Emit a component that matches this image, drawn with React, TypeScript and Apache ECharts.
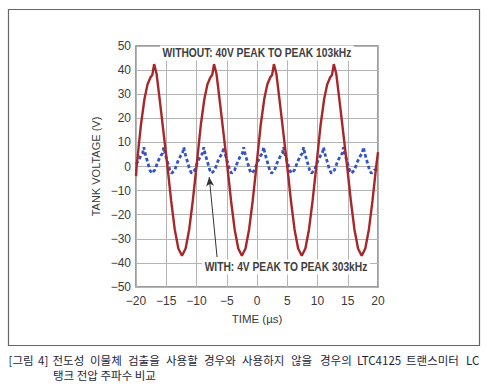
import React, { useEffect, useRef } from "react";
import * as echarts from "echarts";

// time (µs), tank voltage (V) — without foreign-object detection (103 kHz)
const withoutData: [number, number][] = [
  [-20, -4], [-19.9, 0], [-19.2, 17], [-18.6, 28], [-18.1, 34], [-17.6, 37], [-17.3, 38], [-17.1, 41], [-17.0, 42.5],
  [-16.85, 41], [-16.6, 38.5], [-16.0, 26], [-15.4, 13], [-14.8, 0], [-14.2, -14], [-13.6, -26], [-13.0, -34],
  [-12.4, -37], [-11.8, -34], [-11.2, -26], [-10.6, -14], [-10.0, 0],
  [-9.3, 17], [-8.7, 28], [-8.2, 34], [-7.7, 37], [-7.4, 38], [-7.2, 41], [-7.1, 42.5],
  [-6.95, 41], [-6.7, 38.5], [-6.1, 26], [-5.5, 13], [-4.9, 0], [-4.3, -14], [-3.7, -26], [-3.1, -34],
  [-2.5, -37], [-1.9, -34], [-1.3, -26], [-0.7, -14], [-0.1, 0],
  [0.6, 17], [1.2, 28], [1.7, 34], [2.2, 37], [2.5, 38], [2.7, 41], [2.8, 42.5],
  [2.95, 41], [3.2, 38.5], [3.8, 26], [4.4, 13], [5.0, 0], [5.6, -14], [6.2, -26], [6.8, -34],
  [7.4, -37], [8.0, -34], [8.6, -26], [9.2, -14], [9.8, 0],
  [10.5, 17], [11.1, 28], [11.6, 34], [12.1, 37], [12.4, 38], [12.6, 41], [12.7, 42.5],
  [12.85, 41], [13.1, 38.5], [13.7, 26], [14.3, 13], [14.9, 0], [15.5, -14], [16.1, -26], [16.7, -34],
  [17.3, -37], [17.9, -34], [18.5, -26], [19.1, -14], [19.7, 0], [20, 6],
];

// time (µs), tank voltage (V) — with foreign-object detection (303 kHz)
const withData: [number, number][] = [
  [-20, 1], [-19.7, 2], [-19.2, 4.5], [-18.9, 5.5], [-18.7, 8], [-18.5, 5.5], [-18.1, 2], [-17.7, -1.5], [-17.4, -2.8],
  [-16.9, -1.5], [-16.4, 2], [-15.9, 4.5], [-15.6, 5.5], [-15.4, 8], [-15.2, 5.5], [-14.8, 2], [-14.4, -1.5], [-14.1, -2.8],
  [-13.6, -1.5], [-13.1, 2], [-12.6, 4.5], [-12.3, 5.5], [-12.1, 8], [-11.9, 5.5], [-11.5, 2], [-11.1, -1.5], [-10.8, -2.8],
  [-10.3, -1.5], [-9.8, 2], [-9.3, 4.5], [-9.0, 5.5], [-8.8, 8], [-8.6, 5.5], [-8.2, 2], [-7.8, -1.5], [-7.5, -2.8],
  [-7.0, -1.5], [-6.5, 2], [-6.0, 4.5], [-5.7, 5.5], [-5.5, 8], [-5.3, 5.5], [-4.9, 2], [-4.5, -1.5], [-4.2, -2.8],
  [-3.7, -1.5], [-3.2, 2], [-2.7, 4.5], [-2.4, 5.5], [-2.2, 8], [-2.0, 5.5], [-1.6, 2], [-1.2, -1.5], [-0.9, -2.8],
  [-0.4, -1.5], [0.1, 2], [0.6, 4.5], [0.9, 5.5], [1.1, 8], [1.3, 5.5], [1.7, 2], [2.1, -1.5], [2.4, -2.8],
  [2.9, -1.5], [3.4, 2], [3.9, 4.5], [4.2, 5.5], [4.4, 8], [4.6, 5.5], [5.0, 2], [5.4, -1.5], [5.7, -2.8],
  [6.2, -1.5], [6.7, 2], [7.2, 4.5], [7.5, 5.5], [7.7, 8], [7.9, 5.5], [8.3, 2], [8.7, -1.5], [9.0, -2.8],
  [9.5, -1.5], [10.0, 2], [10.5, 4.5], [10.8, 5.5], [11.0, 8], [11.2, 5.5], [11.6, 2], [12.0, -1.5], [12.3, -2.8],
  [12.8, -1.5], [13.3, 2], [13.8, 4.5], [14.1, 5.5], [14.3, 8], [14.5, 5.5], [14.9, 2], [15.3, -1.5], [15.6, -2.8],
  [16.1, -1.5], [16.6, 2], [17.1, 4.5], [17.4, 5.5], [17.6, 8], [17.8, 5.5], [18.2, 2], [18.6, -1.5], [18.9, -2.8],
  [19.4, -1.5], [20, -1],
];

// annotation arrow (data coords): from label to the 303 kHz trace
const arrowStart: [number, number] = [-6.6, -37.6];
const arrowEnd: [number, number] = [-7.9, -4.4];

const xMin = -20, xMax = 20, xStep = 5;
const yMin = -50, yMax = 50, yStep = 10;

const topLabel = "WITHOUT: 40V PEAK TO PEAK 103kHz";
const bottomLabel = "WITH: 4V PEAK TO PEAK 303kHz";
const xName = "TIME (µs)";
const yName = "TANK VOLTAGE (V)";
const captionWords1 = ["[그림", "4]", "전도성", "이물체", "검출을", "사용할", "경우와", "사용하지", "않을", "경우의", "LTC4125", "트랜스미터", "LC"];
const captionLine2 = "탱크 전압 주파수 비교";

// layout: left x of each caption word (justified line)
const captionWordX = [8.5, 38, 52.5, 90, 128, 166, 204, 242, 291, 320, 357, 406, 466];

const sans = "'Liberation Sans', Arial, sans-serif";
const cjk = "'Noto Sans CJK KR', 'Noto Sans', sans-serif";

export default function App() {
  const ref = useRef<HTMLDivElement>(null);
  useEffect(() => {
    const chart = echarts.init(ref.current!, null, { renderer: "svg" });
    const fmt = (v: number) => String(v).replace("-", "\u2212");
    const captionTexts = captionWords1.map((w, i) => ({
      type: "text", x: captionWordX[i], y: 360,
      style: { text: w, fill: "#1e1e3a", font: `11.5px ${cjk}`, align: "left", verticalAlign: "middle" },
    }));
    chart.setOption({
      animation: false,
      backgroundColor: "#ffffff",
      grid: {
        left: 136, right: 121, top: 46, bottom: 105,
        show: true, borderColor: "#7d7d7d", borderWidth: 1.5, backgroundColor: "transparent",
      },
      xAxis: {
        type: "value", min: xMin, max: xMax, interval: xStep,
        axisLine: { show: false }, axisTick: { show: false },
        splitLine: { show: true, lineStyle: { color: "#b4b4b4", width: 1 } },
        axisLabel: { formatter: fmt, color: "#3a3a3a", fontFamily: sans, fontSize: 12, margin: 8 },
        name: xName, nameLocation: "middle", nameGap: 26,
        nameTextStyle: { color: "#3a3a3a", fontFamily: sans, fontSize: 11.5 },
      },
      yAxis: {
        type: "value", min: yMin, max: yMax, interval: yStep,
        axisLine: { show: false }, axisTick: { show: false },
        splitLine: { show: true, lineStyle: { color: "#b4b4b4", width: 1 } },
        axisLabel: { formatter: fmt, color: "#3a3a3a", fontFamily: sans, fontSize: 12, margin: 5 },
        name: yName, nameLocation: "middle", nameGap: 35,
        nameTextStyle: { color: "#3a3a3a", fontFamily: sans, fontSize: 11 },
      },
      series: [
        {
          type: "line", data: withData, showSymbol: false, symbol: "none", smooth: false,
          lineStyle: { color: "#3354c2", width: 2.8, type: [3.5, 2.5] },
          markLine: {
            silent: true, symbol: ["none", "arrow"], symbolSize: [6, 9],
            label: { show: false },
            lineStyle: { color: "#333333", width: 1, type: "solid" },
            data: [[{ coord: arrowStart }, { coord: arrowEnd }]],
          },
        },
        {
          type: "line", data: withoutData, showSymbol: false, symbol: "none", smooth: false,
          lineStyle: { color: "#a8272a", width: 2.4 },
        },
      ],
      graphic: [
        {
          type: "rect", silent: true,
          shape: { x: 8.5, y: 9.5, width: 471, height: 336 },
          style: { fill: "none", stroke: "#666666", lineWidth: 1.2 },
        },
        {
          type: "text", x: 257, y: 53, z: 10, scaleX: 0.82,
          style: {
            text: topLabel, fill: "#404040", font: `bold 12.5px ${sans}`,
            align: "center", verticalAlign: "middle", backgroundColor: "#ffffff", padding: [1, 3],
          },
        },
        {
          type: "text", x: 286, y: 267, z: 10, scaleX: 0.82,
          style: {
            text: bottomLabel, fill: "#404040", font: `bold 12.5px ${sans}`,
            align: "center", verticalAlign: "middle", backgroundColor: "#ffffff", padding: [1, 3],
          },
        },
        ...captionTexts,
        {
          type: "text", x: 53, y: 375,
          style: { text: captionLine2, fill: "#1e1e3a", font: `11.5px ${cjk}`, align: "left", verticalAlign: "middle" },
        },
      ],
    });
    return () => chart.dispose();
  }, []);
  return <div ref={ref} style={{ position: "fixed", left: 0, top: 0, width: 499, height: 392 }} />;
}
